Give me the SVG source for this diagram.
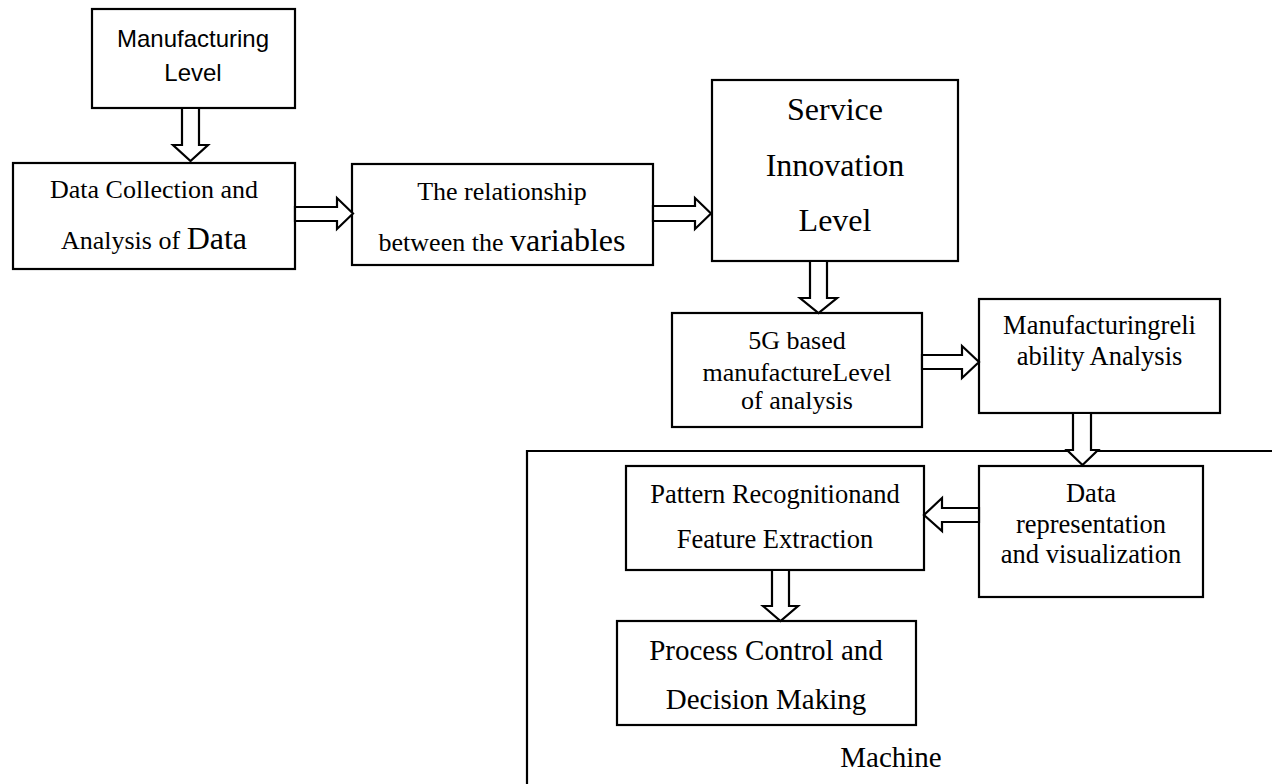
<svg xmlns="http://www.w3.org/2000/svg" width="1272" height="784" viewBox="0 0 1272 784">
<style>
.box{fill:#fff;stroke:#000;stroke-width:2.2}
.arr{fill:#fff;stroke:#000;stroke-width:2.2;stroke-linejoin:miter}
.t{font-family:"Liberation Serif","Times New Roman",serif;fill:#000;text-anchor:middle}
.s{font-family:"Liberation Sans",Arial,sans-serif;fill:#000;text-anchor:middle}
</style>
<rect width="1272" height="784" fill="#fff"/>
<g id="machine">
<path d="M1272,451 H527 V784" fill="none" stroke="#000" stroke-width="2.2"/>
<text class="t" x="891" y="767" font-size="29">Machine</text>
</g>
<g id="manufacturing-level">
<rect class="box" x="92" y="9" width="203" height="99"/>
<text class="s" x="193" y="47" font-size="24">Manufacturing</text>
<text class="s" x="193" y="81" font-size="24">Level</text>
</g>
<g id="data-collection">
<rect class="box" x="13" y="163" width="282" height="106"/>
<text class="t" x="154" y="198" font-size="26">Data Collection and</text>
<text class="t" x="154" y="249" font-size="26">Analysis of <tspan font-size="32">Data</tspan></text>
</g>
<g id="relationship">
<rect class="box" x="352" y="164" width="301" height="101"/>
<text class="t" x="502" y="200" font-size="26">The relationship</text>
<text class="t" x="502" y="251" font-size="26">between the <tspan font-size="32">variables</tspan></text>
</g>
<g id="service">
<rect class="box" x="712" y="80" width="246" height="181"/>
<text class="t" x="835" y="120" font-size="32">Service</text>
<text class="t" x="835" y="176" font-size="32">Innovation</text>
<text class="t" x="835" y="231" font-size="32">Level</text>
</g>
<g id="fiveg">
<rect class="box" x="672" y="313" width="250" height="114"/>
<text class="t" x="797" y="349" font-size="26">5G based</text>
<text class="t" x="797" y="381" font-size="26">manufactureLevel</text>
<text class="t" x="797" y="409" font-size="26">of analysis</text>
</g>
<g id="reliability">
<rect class="box" x="979" y="299" width="241" height="114"/>
<text class="t" x="1099.5" y="334" font-size="26.5">Manufacturingreli</text>
<text class="t" x="1099.5" y="365" font-size="26.5">ability Analysis</text>
</g>
<g id="data-representation">
<rect class="box" x="979" y="466" width="224" height="131"/>
<text class="t" x="1091" y="502" font-size="26.5">Data</text>
<text class="t" x="1091" y="533" font-size="26.5">representation</text>
<text class="t" x="1091" y="563" font-size="26.5">and visualization</text>
</g>
<g id="pattern">
<rect class="box" x="626" y="466" width="298" height="104"/>
<text class="t" x="775" y="503" font-size="26.5">Pattern Recognitionand</text>
<text class="t" x="775" y="548" font-size="26.5">Feature Extraction</text>
</g>
<g id="process">
<rect class="box" x="617" y="621" width="299" height="104"/>
<text class="t" x="766" y="660" font-size="29">Process Control and</text>
<text class="t" x="766" y="709" font-size="29">Decision Making</text>
</g>
<g id="connectors">
<polygon class="arr" points="182,108 182,145 173,145 190.5,161 208,145 199,145 199,108"/>
<polygon class="arr" points="295,207 337,207 337,198 353,213.5 337,229 337,221 295,221"/>
<polygon class="arr" points="653,206 695,206 695,198 711,213.5 695,229 695,221 653,221"/>
<polygon class="arr" points="810,261 810,298 800,298 818.5,313 837,298 827,298 827,261"/>
<polygon class="arr" points="922,355 962,355 962,346 979,362 962,378 962,369 922,369"/>
<polygon class="arr" points="1073,413 1073,450 1067,450 1082.5,465 1098,450 1091,450 1091,413"/>
<polygon class="arr" points="979,508 942,508 942,498 924,515 942,531 942,522 979,522"/>
<polygon class="arr" points="772,570 772,606 763,606 780.5,621 798,606 789,606 789,570"/>
</g>
</svg>
